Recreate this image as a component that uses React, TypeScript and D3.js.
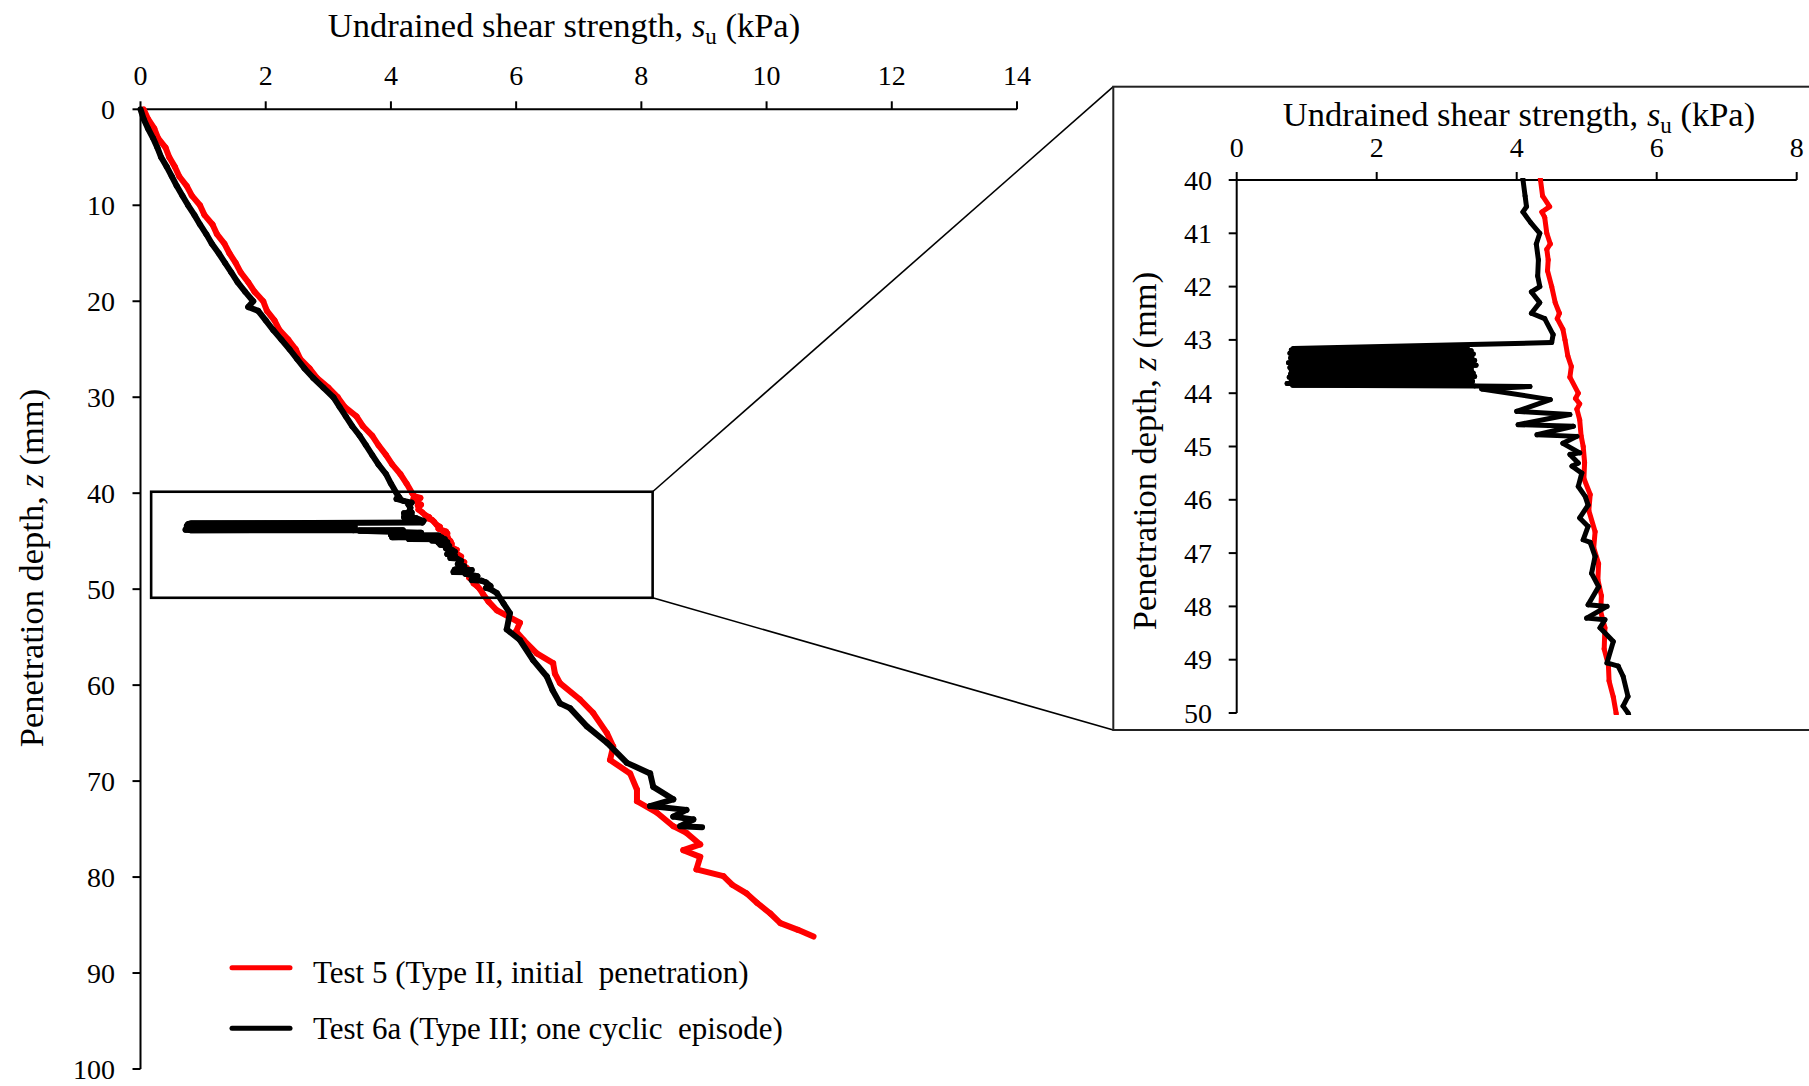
import React from "react";
import * as d3 from "d3";

// ---------- DATA ----------
const xTicksMain = [0, 2, 4, 6, 8, 10, 12, 14];
const yTicksMain = [0, 10, 20, 30, 40, 50, 60, 70, 80, 90, 100];
const xTicksInset = [0, 2, 4, 6, 8];
const yTicksInset = [40, 41, 42, 43, 44, 45, 46, 47, 48, 49, 50];

// Test 5 (Type II, initial penetration) — depth z (mm), su (kPa)
const test5Depth = [
  0, 1, 2, 3, 4, 5, 6, 7, 8, 9, 10, 11, 12, 13, 14, 15, 16, 17, 18, 19, 20,
  21, 22, 23, 24, 25, 26, 27, 28, 29, 30, 31, 32, 33, 34, 35, 36, 37, 38, 39,
  40, 40.3, 40.5, 40.6, 40.7, 41, 41.2, 41.3, 41.5, 41.7, 42, 42.3, 42.5, 42.6,
  42.8, 43, 43.3, 43.5, 43.7, 44, 44.1, 44.2, 44.3, 44.5, 44.8, 45, 45.3, 45.6,
  45.9, 46.2, 46.6, 46.9, 47.2, 47.5, 47.8, 48.1, 48.4, 48.8, 49.1, 49.4, 49.7,
  50, 50.5, 51.3, 52.2, 53.5, 54.4, 55.3, 56.7, 57.7, 58.8, 59.8, 61.5, 62.9,
  65, 66.4, 67.8, 69.2, 70.9, 72.1, 73.3, 74.7, 75.4, 76.6, 77.2, 77.9, 79.2,
  79.9, 80.8, 81.7, 82.7, 83.8, 84.8, 85.5, 86.2,
];
const test5Su = [
  0.05, 0.12, 0.22, 0.28, 0.4, 0.46, 0.55, 0.62, 0.74, 0.82, 0.95, 1.02, 1.15,
  1.22, 1.34, 1.42, 1.52, 1.6, 1.72, 1.82, 1.96, 2.02, 2.14, 2.22, 2.36, 2.48,
  2.55, 2.7, 2.82, 3.0, 3.15, 3.26, 3.45, 3.55, 3.7, 3.8, 3.92, 4.02, 4.15,
  4.25, 4.34, 4.37, 4.47, 4.36, 4.4, 4.43, 4.48, 4.43, 4.45, 4.44, 4.5, 4.55,
  4.61, 4.58, 4.66, 4.69, 4.73, 4.78, 4.76, 4.88, 4.84, 4.9, 4.86, 4.9, 4.92,
  4.95, 4.97, 4.96, 5.05, 5.03, 5.12, 5.1, 5.17, 5.16, 5.21, 5.2, 5.26, 5.25,
  5.31, 5.32, 5.38, 5.42, 5.47, 5.56, 5.69, 6.06, 6.0, 6.12, 6.33, 6.59, 6.62,
  6.7, 7.02, 7.23, 7.45, 7.55, 7.5, 7.82, 7.93, 7.93, 8.25, 8.51, 8.72, 8.94,
  8.67, 8.94, 8.88, 9.31, 9.45, 9.68, 9.85, 10.06, 10.22, 10.5, 10.75,
];

// Test 6a (Type III; one cyclic episode) — depth z (mm), su (kPa)
const test6aDepth = [
  0, 1, 2, 3, 4, 5, 6, 7, 8, 9, 10, 11, 12, 13, 14, 15, 16, 17, 18, 19, 20,
  20.6, 21, 22, 23, 24, 25, 26, 27, 28, 29, 30, 31, 32, 33, 34, 35, 36, 37, 38,
  39, 40, 40.3, 40.5, 40.6, 40.8, 41, 41.2, 41.5, 41.8, 42, 42.1, 42.3, 42.5,
  42.6, 42.9, 43.05,
  43.16, 43.175, 43.19, 43.205, 43.22, 43.235, 43.25, 43.265, 43.28, 43.295,
  43.31, 43.325, 43.34, 43.355, 43.37, 43.385, 43.4, 43.415, 43.43, 43.445,
  43.46, 43.475, 43.49, 43.505, 43.52, 43.535, 43.55, 43.565, 43.58, 43.595,
  43.61, 43.625, 43.64, 43.655, 43.67, 43.685, 43.7, 43.715, 43.73, 43.745,
  43.76, 43.775, 43.79, 43.805, 43.82, 43.835, 43.85, 43.865,
  43.875, 43.92, 44.12, 44.34, 44.4, 44.59, 44.62, 44.78, 44.81, 44.94, 45.12,
  45.15, 45.31, 45.37, 45.5, 45.75, 45.94, 46.1, 46.34, 46.5, 46.75, 46.8,
  47.06, 47.38, 47.63, 47.97, 48.0, 48.22, 48.25, 48.4, 48.66, 49.06, 49.12,
  49.31, 49.69, 49.87, 50.0,
  50.4, 51.5, 52.5, 54.2, 55.3, 57.4, 59.1, 60.5, 61.9, 62.4, 64.3, 66.0, 68.1,
  69.2, 70.6, 71.9, 72.6, 73.0, 73.7, 74.0, 74.7, 74.8,
];
const test6aSu = [
  0.0, 0.05, 0.12, 0.2, 0.27, 0.33, 0.42, 0.5, 0.58, 0.67, 0.76, 0.86, 0.95,
  1.05, 1.14, 1.25, 1.35, 1.45, 1.55, 1.67, 1.8, 1.72, 1.88, 2.0, 2.12, 2.25,
  2.38, 2.5, 2.62, 2.76, 2.92, 3.08, 3.18, 3.28, 3.38, 3.5, 3.6, 3.7, 3.8,
  3.92, 4.0, 4.09, 4.12, 4.14, 4.09, 4.2, 4.33, 4.28, 4.31, 4.3, 4.33, 4.21,
  4.33, 4.21, 4.4, 4.52, 4.5,
  0.81, 3.3, 0.78, 3.35, 0.8, 3.32, 0.76, 3.38, 0.79, 3.3,
  0.83, 3.36, 0.77, 3.31, 0.8, 3.4, 0.82, 3.28, 0.74, 3.33,
  0.81, 3.42, 0.79, 3.3, 0.76, 3.35, 0.8, 3.24, 0.78, 3.36,
  0.83, 3.38, 0.77, 3.31, 0.8, 3.4, 0.75, 3.29, 0.81, 3.34,
  0.78, 3.37, 0.82, 3.3, 0.72, 3.36, 0.8, 3.4,
  4.19, 3.5, 4.48, 4.0, 4.76, 4.02, 4.81, 4.29, 4.86, 4.66, 4.9, 4.76, 4.88,
  4.79, 4.93, 4.88, 4.98, 5.02, 4.9, 5.02, 4.95, 5.05, 5.12, 5.07, 5.17, 5.02,
  5.29, 5.0, 5.26, 5.19, 5.38, 5.29, 5.45, 5.52, 5.59, 5.52, 5.59,
  5.69, 5.8, 5.9, 5.85, 6.06, 6.27, 6.49, 6.58, 6.7, 6.86, 7.13, 7.45, 7.77,
  8.14, 8.19, 8.51, 8.14, 8.72, 8.51, 8.83, 8.62, 8.97,
];

// Zoom box drawn on the main plot (data coords)
const zoomBoxSu = [0.17, 8.18];
const zoomBoxZ = [39.85, 50.9];

const seriesNames = [
  "Test 5 (Type II, initial  penetration)",
  "Test 6a (Type III; one cyclic  episode)",
];
const seriesColors = ["#ff0000", "#000000"];

// ---------- CHART ----------
const W = 1809;
const H = 1086;
const FONT = "'Liberation Serif', 'Times New Roman', serif";

type Pt = [number, number];
const zip = (z: number[], s: number[]): Pt[] => z.map((d, i) => [s[i], d]);

export default function App() {
  const xMain = d3.scaleLinear().domain([0, 14]).range([140.5, 1017]);
  const yMain = d3.scaleLinear().domain([0, 100]).range([109.3, 1069]);
  const xIn = d3.scaleLinear().domain([0, 8]).range([1236.7, 1796.7]);
  const yIn = d3.scaleLinear().domain([40, 50]).range([180, 713]);

  const s5 = zip(test5Depth, test5Su);
  const s6 = zip(test6aDepth, test6aSu);
  const series = [s5, s6];

  // each series drawn as a chain of separate segments (round caps = round joins),
  // so hairpin reversals in the cyclic episode stay solidly filled
  const segs = (
    s: Pt[],
    xs: d3.ScaleLinear<number, number>,
    ys: d3.ScaleLinear<number, number>,
    color: string,
    width: number,
    key: string
  ) =>
    d3.pairs(s).map(([a, b], j) => (
      <line
        key={key + j}
        x1={xs(a[0])}
        y1={ys(a[1])}
        x2={xs(b[0])}
        y2={ys(b[1])}
        stroke={color}
        strokeWidth={width}
        strokeLinecap="round"
      />
    ));

  const bx0 = xMain(zoomBoxSu[0]);
  const bx1 = xMain(zoomBoxSu[1]);
  const by0 = yMain(zoomBoxZ[0]);
  const by1 = yMain(zoomBoxZ[1]);

  const frameL = 1113.3;
  const frameT = 86.7;
  const frameB = 730;

  const tickFs = 28;
  const titleFs = 34.5;

  const legendLineY = [967.7, 1028.3];
  const legendTextY = [983, 1038.5];

  return (
    <svg
      width={W}
      height={H}
      viewBox={`0 0 ${W} ${H}`}
      style={{ position: "absolute", left: 0, top: 0, background: "#fff" }}
      fontFamily={FONT}
    >
      <rect x={0} y={0} width={W} height={H} fill="#fff" />
      <defs>
        <clipPath id="insetClip">
          <rect x={xIn(0)} y={yIn(40) - 2} width={xIn(8) - xIn(0)} height={yIn(50) - yIn(40) + 4} />
        </clipPath>
      </defs>

      {/* ===== MAIN PLOT ===== */}
      <text x={564} y={37} fontSize={titleFs} textAnchor="middle" fill="#000">
        Undrained shear strength,{" "}
        <tspan fontStyle="italic">s</tspan>
        <tspan fontSize={23} dy={7}>u</tspan>
        <tspan dy={-7}> (kPa)</tspan>
      </text>
      <text
        transform={`translate(43,568) rotate(-90)`}
        fontSize={titleFs}
        textAnchor="middle"
        fill="#000"
      >
        Penetration depth, <tspan fontStyle="italic">z</tspan> (mm)
      </text>

      {/* axes */}
      <line x1={xMain(0)} x2={xMain(14)} y1={yMain(0)} y2={yMain(0)} stroke="#000" strokeWidth={2} />
      <line x1={xMain(0)} x2={xMain(0)} y1={yMain(0)} y2={yMain(100)} stroke="#000" strokeWidth={2} />
      {xTicksMain.map((t) => (
        <g key={"xm" + t}>
          <line x1={xMain(t)} x2={xMain(t)} y1={yMain(0)} y2={yMain(0) - 8} stroke="#000" strokeWidth={2} />
          <text x={xMain(t)} y={85} fontSize={tickFs} textAnchor="middle" fill="#000">
            {t}
          </text>
        </g>
      ))}
      {yTicksMain.map((t) => (
        <g key={"ym" + t}>
          <line x1={xMain(0) - 8} x2={xMain(0)} y1={yMain(t)} y2={yMain(t)} stroke="#000" strokeWidth={2} />
          <text x={115} y={yMain(t) + 9.5} fontSize={tickFs} textAnchor="end" fill="#000">
            {t}
          </text>
        </g>
      ))}

      {/* data lines */}
      {series.map((s, i) => (
        <g key={"m" + i}>{segs(s, xMain, yMain, seriesColors[i], 6, "m" + i + "_")}</g>
      ))}

      {/* zoom box and connectors */}
      <rect x={bx0} y={by0} width={bx1 - bx0} height={by1 - by0} fill="none" stroke="#000" strokeWidth={2.6} />
      <line x1={bx1} y1={by0} x2={frameL} y2={frameT} stroke="#000" strokeWidth={1.6} />
      <line x1={bx1} y1={by1} x2={frameL} y2={frameB} stroke="#000" strokeWidth={1.6} />

      {/* legend */}
      {seriesNames.map((n, i) => (
        <g key={"lg" + i}>
          <line
            x1={232}
            x2={290}
            y1={legendLineY[i]}
            y2={legendLineY[i]}
            stroke={seriesColors[i]}
            strokeWidth={5}
            strokeLinecap="round"
          />
          <text x={313} y={legendTextY[i]} fontSize={31} fill="#000" style={{ whiteSpace: "pre" }}>
            {n}
          </text>
        </g>
      ))}

      {/* ===== INSET ===== */}
      <rect x={frameL} y={frameT} width={W + 40 - frameL} height={frameB - frameT} fill="#fff" stroke="#222" strokeWidth={2} />
      <text x={1519} y={126} fontSize={titleFs} textAnchor="middle" fill="#000">
        Undrained shear strength,{" "}
        <tspan fontStyle="italic">s</tspan>
        <tspan fontSize={23} dy={7}>u</tspan>
        <tspan dy={-7}> (kPa)</tspan>
      </text>
      <text
        transform={`translate(1156,451) rotate(-90)`}
        fontSize={titleFs}
        textAnchor="middle"
        fill="#000"
      >
        Penetration depth, <tspan fontStyle="italic">z</tspan> (mm)
      </text>

      <line x1={xIn(0)} x2={xIn(8)} y1={yIn(40)} y2={yIn(40)} stroke="#000" strokeWidth={2} />
      <line x1={xIn(0)} x2={xIn(0)} y1={yIn(40)} y2={yIn(50)} stroke="#000" strokeWidth={2} />
      {xTicksInset.map((t) => (
        <g key={"xi" + t}>
          <line x1={xIn(t)} x2={xIn(t)} y1={yIn(40)} y2={yIn(40) - 8} stroke="#000" strokeWidth={2} />
          <text x={xIn(t)} y={157} fontSize={tickFs} textAnchor="middle" fill="#000">
            {t}
          </text>
        </g>
      ))}
      {yTicksInset.map((t) => (
        <g key={"yi" + t}>
          <line x1={xIn(0) - 8} x2={xIn(0)} y1={yIn(t)} y2={yIn(t)} stroke="#000" strokeWidth={2} />
          <text x={1212} y={yIn(t) + 9.5} fontSize={tickFs} textAnchor="end" fill="#000">
            {t}
          </text>
        </g>
      ))}

      <g clipPath="url(#insetClip)">
        {series.map((s, i) => (
          <g key={"i" + i}>{segs(s, xIn, yIn, seriesColors[i], 5, "i" + i + "_")}</g>
        ))}
      </g>
    </svg>
  );
}
